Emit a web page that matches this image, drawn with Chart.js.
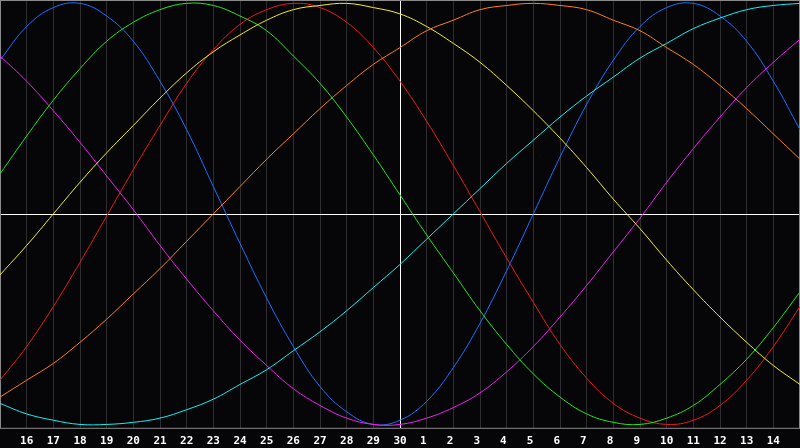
<!DOCTYPE html>
<html>
<head>
<meta charset="utf-8">
<script src="https://cdn.jsdelivr.net/npm/chart.js@4"></script>
<style>
  html, body { margin: 0; padding: 0; background: #060609; }
  canvas { display: block; }
</style>
</head>
<body>
<canvas id="bioChart" width="800" height="448"></canvas>
<script>
// Dagen: 15 vorige maand t/m 15 volgende maand, de 30e staat in het midden.
const days = ['15', '16', '17', '18', '19', '20', '21', '22', '23', '24', '25', '26', '27', '28', '29', '30',
    '1', '2', '3', '4', '5', '6', '7', '8', '9', '10', '11', '12', '13', '14', '15'];

const physical = [73, 89, 98, 100, 94, 82, 63, 40, 13, -14, -40, -63, -82, -94, -100, -98,
    -89, -73, -52, -27, 0, 27, 52, 73, 89, 98, 100, 94, 82, 63, 40];
const emotional = [-79, -63, -44, -23, -1, 21, 42, 62, 78, 90, 97, 100, 98, 91, 79, 63,
    44, 23, 1, -21, -42, -62, -78, -90, -97, -100, -98, -91, -79, -63, -44];
const intellectual = [19, 37, 54, 69, 82, 91, 97, 100, 99, 94, 87, 75, 62, 46, 28, 9,
    -10, -28, -46, -62, -76, -87, -95, -99, -100, -97, -91, -81, -69, -54, -37];
const intuitive = [75, 63, 49, 34, 18, 2, -15, -31, -46, -60, -72, -83, -91, -97, -100, -100,
    -97, -92, -85, -75, -63, -49, -34, -18, -2, 15, 31, 46, 60, 72, 83];
const aesthetic = [-29, -15, 0, 15, 29, 42, 55, 67, 77, 85, 92, 97, 99, 100, 98, 95,
    89, 81, 72, 61, 49, 36, 22, 7, -7, -22, -36, -49, -61, -72, -81];
const awareness = [-87, -79, -71, -61, -50, -38, -26, -13, 0, 13, 26, 38, 50, 61, 71, 79,
    87, 92, 97, 99, 100, 99, 97, 92, 87, 79, 71, 61, 50, 38, 26];
const spiritual = [-90, -95, -98, -100, -100, -99, -97, -93, -88, -81, -74, -65, -56, -46, -35, -24,
    -12, 0, 12, 24, 35, 46, 56, 65, 74, 81, 88, 93, 97, 99, 100];

const BG = '#060609';
const GRID = '#2e2e31';
const FRAME = '#8a8a8a';
const CENTER = 15; // index van de 30e

// Achtergrond, kader en de witte nullijn
const frame = {
    id: 'frame',
    beforeDraw(chart) {
        const c = chart.ctx;
        c.save();
        c.fillStyle = BG;
        c.fillRect(0, 0, chart.width, chart.height);
        c.restore();
    },
    beforeDatasetsDraw(chart) {
        const { ctx: c, chartArea: a, scales } = chart;
        const y0 = Math.round(scales.y.getPixelForValue(0)) + 0.5;
        c.save();
        c.lineWidth = 1;
        c.strokeStyle = '#ffffff';
        c.beginPath();
        c.moveTo(a.left, y0);
        c.lineTo(a.right, y0);
        c.stroke();
        c.strokeStyle = FRAME;
        c.strokeRect(a.left + 0.5, a.top + 0.5, a.right - a.left - 1, a.bottom - a.top);
        c.restore();
    }
};

const line = (data, color) => ({
    data, borderColor: color, backgroundColor: color, borderWidth: 1,
    pointRadius: 0, pointHoverRadius: 0, tension: 0.4, fill: false
});

new Chart(document.getElementById('bioChart'), {
    type: 'line',
    data: {
        labels: days,
        datasets: [
            line(spiritual, '#18f0f0'),
            line(awareness, '#ff8010'),
            line(aesthetic, '#f0f020'),
            line(intuitive, '#f020f0'),
            line(intellectual, '#20e820'),
            line(emotional, '#f01818'),
            line(physical, '#1a70ff')
        ]
    },
    options: {
        responsive: false,
        animation: false,
        layout: { padding: 0, autoPadding: false },
        plugins: { legend: { display: false }, tooltip: { enabled: false } },
        scales: {
            x: {
                offset: false,
                grid: {
                    drawTicks: true, tickLength: 7, tickColor: 'rgba(0,0,0,0)',
                    color: ctx => ctx.index === CENTER ? '#ffffff' : GRID
                },
                border: { display: false },
                ticks: {
                    autoSkip: false, maxRotation: 0, padding: 0, color: '#ffffff',
                    font: { family: 'DejaVu Sans Mono', size: 11, weight: 'bold' },
                    // randen zonder label; enkele cijfers links uitlijnen zoals het origineel
                    callback: (v, i) => (i === 0 || i === days.length - 1) ? '' : (days[i].length < 2 ? days[i] + ' ' : days[i])
                }
            },
            y: { display: false, min: -101.6, max: 101.6 }
        }
    },
    plugins: [frame]
});
</script>
</body>
</html>
